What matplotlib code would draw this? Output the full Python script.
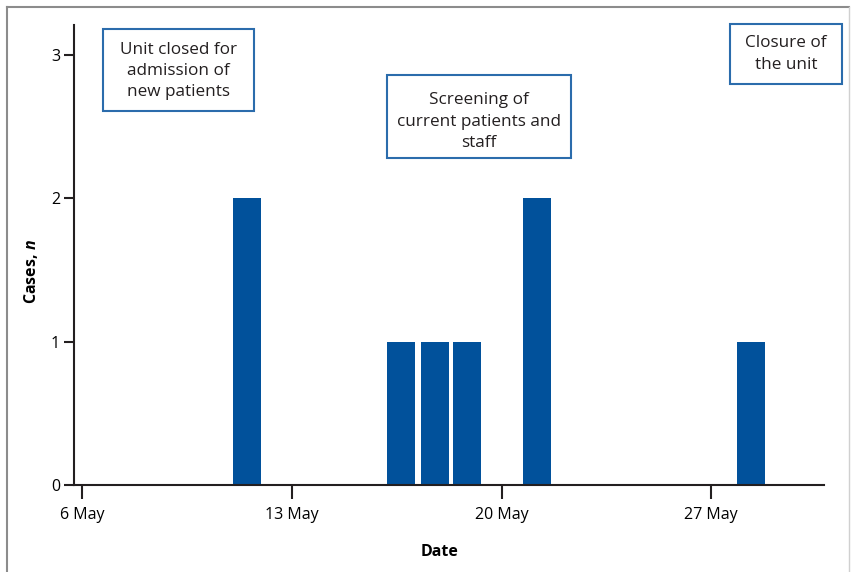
import matplotlib
matplotlib.use('Agg')
import matplotlib.pyplot as plt
from matplotlib.patches import Rectangle
from matplotlib.lines import Line2D

# casos por dia (dia de maio, centro da barra)
dias = [11.5, 16.64, 17.78, 18.85, 21.19, 28.34]
casos = [2, 1, 1, 1, 2, 1]
tick_dias = [6, 13, 20, 27]
tick_labels = ['6 May', '13 May', '20 May', '27 May']
y_ticks = [0, 1, 2, 3]
notas = ['Unit closed for\nadmission of\nnew patients',
         'Screening of\ncurrent patients and\nstaff',
         'Closure of\nthe unit']

plt.rcParams['font.family'] = ['Open Sans', 'DejaVu Sans']
plt.rcParams['mathtext.fontset'] = 'custom'
plt.rcParams['mathtext.bfit'] = 'Open Sans:italic:bold'

W, H = 851, 572
fig = plt.figure(figsize=(W / 100, H / 100), dpi=100)

def fx(x):
    return x / W

def fy(y):
    return 1 - y / H

ax = fig.add_axes([fx(74), fy(485), fx(824) - fx(74), fy(25) - fy(485)])

azul = '#01519b'
escuro = '#231f20'
ax.bar(dias, casos, width=0.935, color=azul)

ax.set_xlim(5.72, 30.77)
ax.set_ylim(0, 3.21)
ax.set_xticks(tick_dias)
ax.set_xticklabels(tick_labels)
ax.set_yticks(y_ticks)

for s in ['top', 'right']:
    ax.spines[s].set_visible(False)
for s in ['left', 'bottom']:
    ax.spines[s].set_linewidth(1.5)
    ax.spines[s].set_color(escuro)

ax.tick_params(axis='x', length=10, width=1.5, color=escuro, labelsize=11.5, pad=6)
ax.tick_params(axis='y', length=7, width=1.5, color=escuro, labelsize=11.5, pad=3)

ax.set_xlabel('Date', fontsize=11.5, fontweight='bold')
ax.xaxis.set_label_coords(0.487, -0.128)
ax.set_ylabel(r'Cases, $\mathbfit{n}$', fontsize=11.5, fontweight='bold')
ax.yaxis.set_label_coords(-0.045, 0.465)

# caixas de anotação (pixels da figura)
caixas = [(103, 29, 254, 111), (387, 75, 571, 158), (730, 24, 842, 84)]
desloc = [1, 5, 0]
for (x0, y0, x1, y1), txt, d in zip(caixas, notas, desloc):
    fig.patches.append(Rectangle((fx(x0), fy(y1)), fx(x1) - fx(x0), fy(y0) - fy(y1),
                                 transform=fig.transFigure, fill=False,
                                 edgecolor='#2b6cac', linewidth=1.5))
    fig.text(fx((x0 + x1) / 2), fy((y0 + y1) / 2 + d), txt, ha='center', va='center',
             fontsize=12.3, linespacing=1.42, color=escuro)

# moldura cinza
cinza = '#8c8c8c'
fig.lines.append(Line2D([fx(7), fx(7)], [fy(7), 0], transform=fig.transFigure, color=cinza, lw=1.5))
fig.lines.append(Line2D([fx(7), fx(849)], [fy(7), fy(7)], transform=fig.transFigure, color=cinza, lw=1.5))
fig.lines.append(Line2D([fx(849), fx(849)], [fy(7), 0], transform=fig.transFigure, color='#d0d0d0', lw=1.0))

fig.savefig('out.png', dpi=100)
